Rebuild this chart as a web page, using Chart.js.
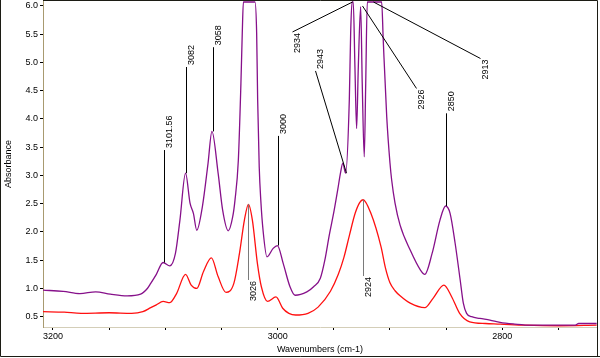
<!DOCTYPE html>
<html>
<head>
<meta charset="utf-8">
<title>IR spectrum</title>
<script src="https://cdn.jsdelivr.net/npm/chart.js@4.4.1/dist/chart.umd.min.js"></script>
<style>
    html, body { margin: 0; padding: 0; background: #fff; }
    #wrap { width: 600px; height: 358px; }
    canvas { display: block; }
</style>
</head>
<body>
<div id="wrap"><canvas id="irChart" width="600" height="358"></canvas></div>
<script>
// ---- data ----
const purpleWn = [3209, 3191, 3176, 3162, 3149, 3134, 3122, 3116, 3113, 3108, 3102, 3096, 3091, 3087, 3082,
    3078, 3075, 3072, 3067, 3062, 3058.5, 3053, 3049, 3044, 3040, 3038, 3035, 3032.7, 3031.5, 3030.5,
    3020.2, 3018.7, 3017.8, 3016.4, 3015, 3013, 3009.5, 3004, 3000.2, 2995, 2989, 2984.5, 2974, 2968,
    2962, 2958, 2954, 2950, 2946.5, 2944, 2942, 2939.5, 2936.2, 2935, 2933.8, 2932.7, 2931.2, 2929.7,
    2928.2, 2926.1, 2924.7, 2922.9, 2921.6, 2920.2, 2907.4, 2906, 2902.9, 2900, 2898.5, 2895.5, 2891,
    2882, 2873, 2869, 2862.5, 2855.5, 2850.5, 2846.5, 2842, 2837.5, 2834.7, 2831.8, 2827.3, 2820, 2811,
    2802, 2789, 2775, 2749, 2735, 2732, 2716];
const purpleAbs = [0.97, 0.95, 0.91, 0.94, 0.90, 0.87, 0.90, 1.00, 1.09, 1.25, 1.46, 1.40, 1.62, 2.21, 3.04,
    2.51, 2.33, 2.03, 2.45, 3.21, 3.78, 3.04, 2.39, 2.02, 2.27, 2.56, 3.27, 4.63, 5.52, 6.07,
    6.07, 5.52, 4.34, 3.15, 2.56, 2.03, 1.56, 1.71, 1.76, 1.44, 1.03, 0.88, 0.94, 1.03,
    1.18, 1.50, 1.95, 2.35, 2.75, 3.05, 3.22, 3.04, 4.34, 5.52, 6.07, 6.07, 4.92, 3.83,
    4.92, 5.99, 4.63, 3.33, 4.63, 6.07, 6.07, 5.40, 4.04, 3.22, 2.92, 2.51, 2.12,
    1.68, 1.33, 1.25, 1.62, 2.21, 2.46, 2.33, 1.80, 1.15, 0.74, 0.56, 0.50, 0.47, 0.44,
    0.40, 0.37, 0.35, 0.35, 0.35, 0.38, 0.38];

const redWn = [3209, 3190, 3175, 3150, 3130, 3120, 3113, 3108, 3102, 3096, 3090, 3082, 3077, 3072, 3066,
    3059, 3053, 3046, 3039, 3034, 3029.6, 3026, 3022.5, 3018, 3014.5, 3009, 3001.5, 2995.5, 2990, 2984,
    2973, 2964, 2953, 2946, 2941, 2936, 2931, 2927, 2924, 2917, 2908, 2904, 2900, 2895.5, 2891, 2882, 2869,
    2861.5, 2852, 2845, 2838, 2829, 2815, 2802, 2780, 2749, 2716];
const redAbs = [0.59, 0.58, 0.56, 0.57, 0.56, 0.59, 0.66, 0.71, 0.77, 0.75, 0.91, 1.25, 1.06, 1.00, 1.30,
    1.54, 1.21, 0.93, 1.09, 1.62, 2.21, 2.49, 2.21, 1.44, 1.03, 0.77, 0.85, 0.65, 0.56, 0.53,
    0.56, 0.67, 0.95, 1.25, 1.55, 1.95, 2.33, 2.52, 2.57, 2.33, 1.74, 1.36, 1.10, 0.96, 0.87, 0.74, 0.66,
    0.83, 1.06, 0.85, 0.56, 0.41, 0.38, 0.37, 0.35, 0.34, 0.35];

// ticks
const xTickValues = [3200, 3150, 3100, 3050, 3000, 2950, 2900, 2850, 2800, 2750];
const xTickLabeled = [3200, 3000, 2800];
const yTickValues = [0.5, 1.0, 1.5, 2.0, 2.5, 3.0, 3.5, 4.0, 4.5, 5.0, 5.5, 6.0];

// peak labels: text, point on the curve, free end of the leader line
const peakLabels = ['3101.56', '3082', '3058', '3000', '2943', '2934', '2926', '2913', '2850', '3026', '2924'];
const peakWn     = [3101.56, 3082, 3058, 3000, 2939.5, 2934, 2925.2, 2914.9, 2850, 3026, 2924];
const peakAbs    = [1.46, 3.04, 3.78, 1.76, 3.04, 6.07, 6.0, 6.07, 2.46, 2.49, 2.57];
const labelWn    = [3101.56, 3082, 3058, 3000, 2966.8, 2987.5, 2876.8, 2819.9, 2850, 3026, 2924];
const labelAbs   = [3.45, 4.92, 5.27, 3.7, 4.85, 5.54, 4.54, 5.07, 4.1, 1.15, 1.22];
const labelSide  = ['up', 'up', 'up', 'up', 'up', 'down', 'down', 'down', 'up', 'down', 'down'];

const FONT = "'Liberation Sans', Arial, sans-serif";
const FONT_NARROW = "'Liberation Sans Narrow', 'Liberation Sans', Arial, sans-serif";

function toPoints(xs, ys) {
    return xs.map(function (x, i) { return { x: x, y: ys[i] }; });
}

/* ---- peak label leader lines + rotated text ---- */
const peakLabelPlugin = {
    id: 'peakLabels',
    afterDatasetsDraw: function (chart) {
        const ctx = chart.ctx;
        const xs = chart.scales.x, ys = chart.scales.y;
        ctx.save();
        ctx.font = '9px ' + FONT;
        ctx.fillStyle = '#000';
        ctx.textBaseline = 'middle';
        peakLabels.forEach(function (txt, i) {
            const px = Math.round(xs.getPixelForValue(peakWn[i])) + 0.5;
            const py = ys.getPixelForValue(peakAbs[i]);
            const lx = Math.round(xs.getPixelForValue(labelWn[i])) + 0.5;
            const ly = ys.getPixelForValue(labelAbs[i]);
            const down = labelSide[i] === 'down';
            ctx.strokeStyle = (txt === '3026' || txt === '2924') ? '#7a7a7a' : '#000';
            ctx.lineWidth = 1;
            ctx.beginPath();
            ctx.moveTo(px, py);
            ctx.lineTo(lx, ly);
            ctx.stroke();

            ctx.save();
            ctx.translate(lx + 5, down ? ly + 1 : ly - 2);
            ctx.rotate(-Math.PI / 2);
            ctx.textAlign = down ? 'right' : 'left';
            ctx.fillText(txt, 0, 0);
            ctx.restore();
        });
        ctx.restore();
    }
};

/* ---- frame, axis titles ---- */
const framePlugin = {
    id: 'frame',
    afterDraw: function (chart) {
        const ctx = chart.ctx;
        const a = chart.chartArea;
        const W = chart.width, H = chart.height;
        ctx.save();
        ctx.strokeStyle = '#1c1c14';
        ctx.lineWidth = 1;
        ctx.beginPath();
        // plot top + right edge
        ctx.moveTo(a.left, 0.5);
        ctx.lineTo(a.right + 0.5, 0.5);
        ctx.lineTo(a.right + 0.5, H - 1.5);
        // outer frame left + bottom
        ctx.moveTo(0.5, 0);
        ctx.lineTo(0.5, H - 1.5);
        ctx.lineTo(W, H - 1.5);
        ctx.stroke();

        ctx.fillStyle = '#000';
        ctx.textAlign = 'center';
        ctx.textBaseline = 'middle';
        ctx.font = '9px ' + FONT_NARROW;
        ctx.fillText('Wavenumbers (cm-1)', (a.left + a.right) / 2, 350);

        ctx.font = '9px ' + FONT;
        ctx.translate(9, (a.top + a.bottom) / 2);
        ctx.rotate(-Math.PI / 2);
        ctx.fillText('Absorbance', 0, 0);
        ctx.restore();
    }
};

new Chart(document.getElementById('irChart'), {
    type: 'line',
    data: {
        datasets: [
            {
                label: 'upper',
                data: toPoints(purpleWn, purpleAbs),
                borderColor: '#86108a',
                borderWidth: 1.3,
                pointRadius: 0,
                cubicInterpolationMode: 'monotone',
                fill: false
            },
            {
                label: 'lower',
                data: toPoints(redWn, redAbs),
                borderColor: '#ff1010',
                borderWidth: 1.3,
                pointRadius: 0,
                cubicInterpolationMode: 'monotone',
                fill: false
            }
        ]
    },
    options: {
        responsive: false,
        animation: false,
        devicePixelRatio: 1,
        layout: { padding: { top: 1, right: 3, left: 0, bottom: 0 } },
        plugins: {
            legend: { display: false },
            tooltip: { enabled: false }
        },
        scales: {
            x: {
                type: 'linear',
                reverse: true,
                min: 2715.7,
                max: 3208.9,
                afterBuildTicks: function (s) { s.ticks = xTickValues.map(function (v) { return { value: v }; }); },
                afterFit: function (s) { s.height = 31; s.paddingLeft = 0; s.paddingRight = 0; },
                ticks: {
                    autoSkip: false,
                    maxRotation: 0,
                    padding: 1,
                    color: '#000',
                    font: { family: FONT_NARROW, size: 9 },
                    callback: function (v) { return xTickLabeled.indexOf(v) >= 0 ? String(v) : ''; }
                },
                grid: { drawOnChartArea: false, tickLength: 3, tickColor: '#000' },
                border: { color: '#d4ceb8', width: 1 }
            },
            y: {
                min: 0.318,
                max: 6.088,
                afterBuildTicks: function (s) { s.ticks = yTickValues.map(function (v) { return { value: v }; }); },
                afterFit: function (s) { s.width = 43; s.paddingTop = 0; s.paddingBottom = 0; },
                ticks: {
                    padding: 2,
                    color: '#000',
                    font: { family: FONT_NARROW, size: 9 },
                    callback: function (v) { return Number(v).toFixed(1); }
                },
                grid: { drawOnChartArea: false, tickLength: 3, tickColor: '#000' },
                border: { color: '#a89a70', width: 1, dash: [1, 2] }
            }
        }
    },
    plugins: [peakLabelPlugin, framePlugin]
});
</script>
</body>
</html>
